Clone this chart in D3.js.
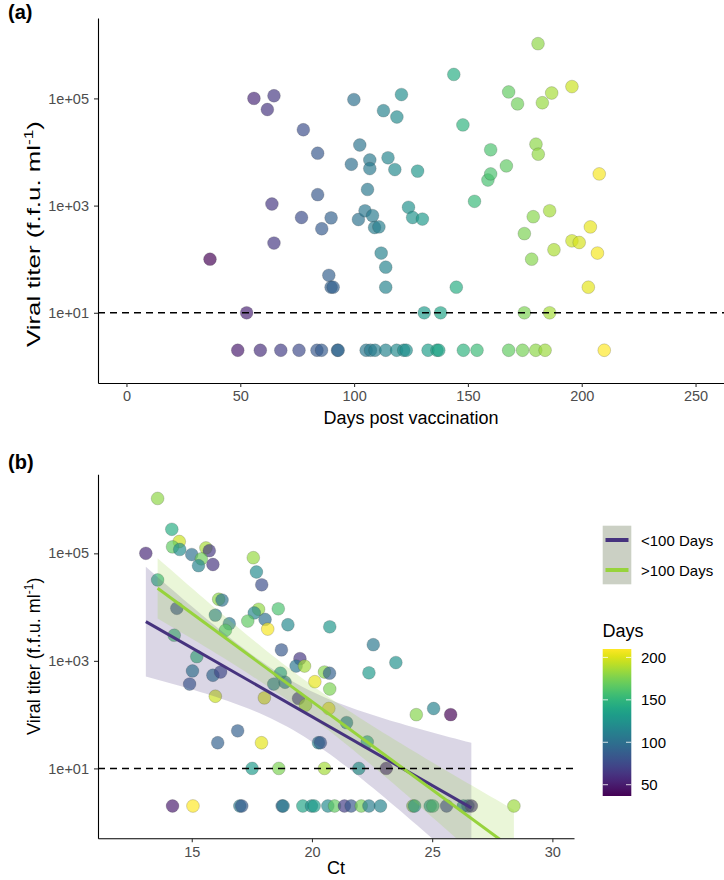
<!DOCTYPE html>
<html><head><meta charset="utf-8">
<script src="https://cdn.jsdelivr.net/npm/d3@7"></script>
<style>body{margin:0;background:#fff;} text{font-family:"Liberation Sans",Arial,sans-serif;}</style>
</head><body><svg id="c" width="724" height="880"></svg>
<script>
// ---------- Panel (a): days post vaccination vs titer ----------
const daysA = [36.7,48.9,52.8,56.0,58.8,61.9,63.9,64.8,64.8,67.8,75.8,76.9,77.7,83.7,84.0,84.0,85.7,85.8,88.9,89.9,89.9,90.8,92.7,93.0,98.8,99.9,101.9,102.5,104.8,105.3,105.9,106.9,106.9,107.2,108.1,109.0,109.2,110.9,111.9,112.9,113.9,113.9,113.9,114.9,117.9,118.7,118.8,120.8,121.8,122.9,123.9,125.7,127.9,130.0,130.8,132.5,136.4,137.2,138.0,143.8,144.9,147.8,148.0,152.9,154.0,158.8,160.0,160.0,166.9,167.9,167.9,171.8,174.0,174.8,174.8,178.0,178.7,179.8,179.9,180.8,180.9,182.7,183.9,185.9,185.9,186.8,187.8,195.7,195.7,198.9,202.9,203.8,206.9,207.7,209.9];
const titerA = [100,2,10,100000,2,62000,1070,112000,200,2,2,600,26000,2,9500,1600,2,370,50,590,30,30,2,2,5900,95000,550,13500,800,2,2000,7100,4900,2,650,390,2,400,130,59000,71,30,2,7800,4700,2,45000,118000,2,2,930,600,4400,560,10,2,2,2,10,280000,30,32000,2,1200,2,3000,11000,3900,5500,132000,2,79000,2,300,10,100,620,2,14000,1050000,9100,83000,2,800,10,126000,150,166000,220,205,30,400,130,3900,2];

// ---------- Panel (b): Ct vs titer, coloured by days ----------
const ctB = [13.58,14.17,14.48,14.20,14.50,13.09,15.00,15.59,15.73,15.40,15.28,15.88,17.56,17.69,17.91,13.58,16.12,16.26,14.38,17.78,18.60,17.60,15.98,17.33,18.05,19.00,18.16,16.56,16.40,20.74,14.27,18.73,15.21,19.50,22.55,19.34,19.69,20.52,20.73,15.03,15.88,16.20,14.91,18.69,18.41,18.88,20.12,20.74,15.98,18.02,19.44,19.73,20.70,21.44,16.91,16.08,17.90,20.27,20.35,23.49,22.37,24.34,25.06,25.77,22.30,
  17.51,18.62,20.52,21.95,23.09,
  14.20,15.05,17.00,17.08,18.76,18.80,19.62,19.98,20.09,20.66,20.94,21.35,21.63,22.05,22.37,22.85,24.20,24.27,24.92,25.03,25.60,26.30,26.49,26.63,28.40];
const titerB = [1050000,280000,166000,132000,118000,100000,95000,126000,112000,79000,59000,62000,83000,45000,26000,32000,14000,13500,9500,9100,9300,7800,7100,5500,5900,4700,3900,4900,3700,4300,3000,1600,1200,1100,2000,800,800,620,590,650,540,620,370,590,370,400,410,300,220,205,200,150,130,71,50,30,30,30,30,930,600,100,130,100,31,
  10,10,10,10,10,
  2,2,2,2,2,2,2,2,2,2,2,2,2,2,2,2,2,2,2,2,2,2,2,2,2];
const daysB = [180.8,143.8,195.7,167.9,120.8,56.0,99.9,186.8,64.8,171.8,112.9,61.9,182.7,118.8,77.7,147.8,179.9,102.5,84.0,180.9,160.0,114.9,106.9,166.9,98.8,117.9,207.7,106.9,160.0,127.9,158.8,84.0,152.9,63.9,105.9,104.8,185.9,178.7,89.9,108.1,101.9,76.9,85.8,125.7,110.9,109.0,203.8,174.8,195.7,198.9,64.8,187.8,206.9,113.9,88.9,89.9,202.9,113.9,90.8,123.9,130.0,178.0,111.9,36.7,144.9,
  130.8,174.8,185.9,138.0,52.8,
  48.9,209.9,105.3,85.7,92.7,107.2,137.2,122.9,132.5,118.7,167.9,67.8,83.7,174.0,109.2,113.9,179.8,148.0,136.4,154.0,75.8,121.8,93.0,58.8,183.9];

// ---------- ticks / labels ----------
const xTicksA = [0,50,100,150,200,250];
const xTicksB = [15,20,25,30];
const yTicks = [10,1000,100000];
const yTickLabels = ["1e+01","1e+03","1e+05"];
const detectionLimit = [10];
const colorbarTicks = [50,100,150,200];

// ---------- fitted lm lines ----------
const fitGroups = ["<100 Days", ">100 Days"];
const fitColors = ["#46337e", "#97d33c"];
const fitCtStart = [13.09, 13.58];
const fitCtEnd = [26.63, 28.40];
const fitLogAtStart = [3.73, 4.35];
const fitSlope = [-0.2558, -0.328];
const bandMinHalf = [0.45, 0.30];
const bandSpread = [0.1504, 0.0775];
const bandCentre = [19.17, 19.68];

const svg = d3.select("#c");
const color = d3.scaleSequential(d3.interpolateViridis).domain([36.7, 209.9]);
const tickGrey = "#4d4d4d";

function styleAxis(g){
  g.select(".domain").attr("stroke","#000").attr("stroke-width",1.1);
  g.selectAll(".tick line").attr("stroke","#333").attr("stroke-width",1.1);
  g.selectAll(".tick text").attr("fill",tickGrey).style("font-size","14.5px")
   .style("font-family",'"Liberation Sans",Arial,sans-serif');
}

function yTitle(cx, cy, len){
  const t = svg.append("text").attr("transform",`translate(${cx},${cy}) rotate(-90)`)
    .attr("text-anchor","middle").style("font-size","18px").attr("fill","#000");
  if (len) t.attr("textLength", len).attr("lengthAdjust","spacingAndGlyphs");
  t.append("tspan").text("Viral titer (f.f.u. ml");
  t.append("tspan").text("-1").style("font-size","12px").attr("dy",-7);
  t.append("tspan").text(")").attr("dy",7);
}

function drawPoints(g, xs, ys, cs, x, y){
  g.selectAll("circle").data(xs).join("circle")
    .attr("cx",(d)=>x(d)).attr("cy",(d,i)=>y(ys[i])).attr("r",6.4)
    .attr("fill",(d,i)=>color(cs[i])).attr("fill-opacity",0.68)
    .attr("stroke","#3a3a3a").attr("stroke-opacity",0.35).attr("stroke-width",0.6);
}

// ===== Panel (a) =====
const xA = d3.scaleLinear().domain([-12.5,262.5]).range([98,724]);
const yA = d3.scaleLog().domain([Math.pow(10,-0.31), Math.pow(10,6.5)]).range([383,18]);

const gpA = svg.append("g");
drawPoints(gpA, daysA, titerA, daysA, xA, yA);
svg.append("line").attr("x1",98).attr("x2",724).attr("y1",yA(detectionLimit[0])).attr("y2",yA(detectionLimit[0]))
  .attr("stroke","#000").attr("stroke-width",1.5).attr("stroke-dasharray","7,5");

svg.append("g").attr("transform","translate(0,383)")
  .call(d3.axisBottom(xA).tickValues(xTicksA).tickSize(4).tickSizeOuter(0).tickPadding(4))
  .call(styleAxis);
svg.append("g").attr("transform","translate(98,0)")
  .call(d3.axisLeft(yA).tickValues(yTicks).tickFormat((d,i)=>yTickLabels[i]).tickSize(4).tickSizeOuter(0).tickPadding(5))
  .call(styleAxis);

svg.append("text").attr("x",(98+724)/2).attr("y",424).attr("text-anchor","middle")
  .style("font-size","18px").text("Days post vaccination");
yTitle(40, 234, 226);
svg.append("text").attr("x",8).attr("y",19).style("font-size","20px").style("font-weight","bold").text("(a)");

// ===== Panel (b) =====
const xB = d3.scaleLinear().domain([11.1,30.9]).range([98,574]);
const yB = d3.scaleLog().domain([Math.pow(10,-0.30), Math.pow(10,6.47)]).range([838.3,474.3]);

svg.append("defs").append("clipPath").attr("id","clipB")
  .append("rect").attr("x",98).attr("y",474.3).attr("width",574-98).attr("height",838.3-474.3);

const gpB = svg.append("g");
drawPoints(gpB, ctB, titerB, daysB, xB, yB);

const gFit = svg.append("g").attr("clip-path","url(#clipB)");
fitGroups.forEach((name,i)=>{
  const steps = d3.range(fitCtStart[i], fitCtEnd[i] + 1e-9, (fitCtEnd[i]-fitCtStart[i])/60);
  const centre = c => fitLogAtStart[i] + fitSlope[i]*(c - fitCtStart[i]);
  const half = c => Math.sqrt(bandMinHalf[i]*bandMinHalf[i] + bandSpread[i]*bandSpread[i]*(c-bandCentre[i])*(c-bandCentre[i]));
  const area = d3.area().x(c=>xB(c))
    .y0(c=>yB(Math.pow(10, centre(c)-half(c))))
    .y1(c=>yB(Math.pow(10, centre(c)+half(c))));
  gFit.append("path").attr("d",area(steps)).attr("fill",fitColors[i]).attr("fill-opacity",0.2);
});
fitGroups.forEach((name,i)=>{
  const ends = [fitCtStart[i], fitCtEnd[i]];
  const line = d3.line().x(c=>xB(c)).y(c=>yB(Math.pow(10, fitLogAtStart[i] + fitSlope[i]*(c-fitCtStart[i]))));
  gFit.append("path").attr("d",line(ends)).attr("fill","none").attr("stroke",fitColors[i]).attr("stroke-width",3);
});

svg.append("line").attr("x1",98).attr("x2",574).attr("y1",yB(detectionLimit[0])).attr("y2",yB(detectionLimit[0]))
  .attr("stroke","#000").attr("stroke-width",1.5).attr("stroke-dasharray","7,5");

svg.append("g").attr("transform","translate(0,838.3)")
  .call(d3.axisBottom(xB).tickValues(xTicksB).tickSize(4).tickSizeOuter(0).tickPadding(4))
  .call(styleAxis);
svg.append("g").attr("transform","translate(98,0)")
  .call(d3.axisLeft(yB).tickValues(yTicks).tickFormat((d,i)=>yTickLabels[i]).tickSize(4).tickSizeOuter(0).tickPadding(5))
  .call(styleAxis);

svg.append("text").attr("x",(98+574)/2).attr("y",874).attr("text-anchor","middle")
  .style("font-size","18px").text("Ct");
yTitle(40, (474.3+838.3)/2, null);
svg.append("text").attr("x",8).attr("y",469).style("font-size","20px").style("font-weight","bold").text("(b)");

// ===== Legends =====
const lg = svg.append("g");
lg.append("rect").attr("x",602.7).attr("y",525.7).attr("width",28.6).attr("height",58.6).attr("fill","#cbd0c4");
fitGroups.forEach((name,i)=>{
  const yy = 540 + i*30;
  lg.append("line").attr("x1",605.5).attr("x2",628.5).attr("y1",yy).attr("y2",yy)
    .attr("stroke",fitColors[i]).attr("stroke-width",4);
  lg.append("text").attr("x",641).attr("y",yy+5.5).style("font-size","15px").text(name);
});

lg.append("text").attr("x",602.5).attr("y",637).style("font-size","18px").text("Days");
const cbY = d3.scaleLinear().domain([36.7,209.9]).range([796,649]);
const grad = svg.select("defs").append("linearGradient").attr("id","vir").attr("x1",0).attr("x2",0).attr("y1",1).attr("y2",0);
d3.range(0,1.0001,0.05).forEach(t=>{
  grad.append("stop").attr("offset",t).attr("stop-color",d3.interpolateViridis(t));
});
lg.append("rect").attr("x",602.7).attr("y",649).attr("width",28.6).attr("height",147).attr("fill","url(#vir)");
colorbarTicks.forEach(v=>{
  const yy = cbY(v);
  lg.append("line").attr("x1",602.7).attr("x2",608).attr("y1",yy).attr("y2",yy).attr("stroke","#fff").attr("stroke-width",0.8);
  lg.append("line").attr("x1",626).attr("x2",631.3).attr("y1",yy).attr("y2",yy).attr("stroke","#fff").attr("stroke-width",0.8);
  lg.append("text").attr("x",641).attr("y",yy+5.3).style("font-size","15px").text(v);
});
</script></body></html>
